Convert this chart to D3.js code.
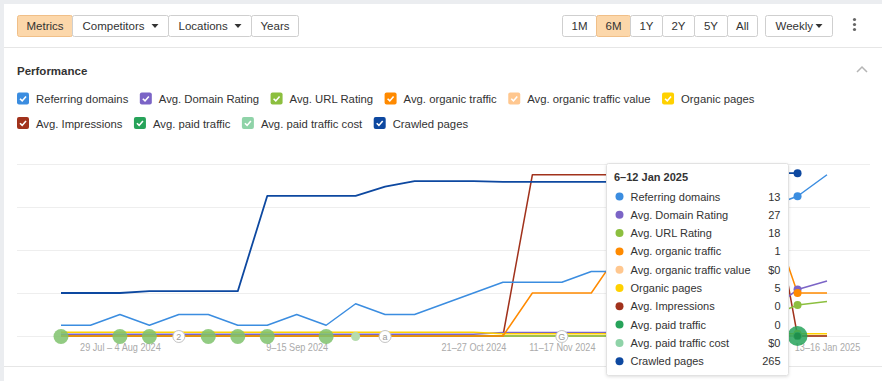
<!DOCTYPE html>
<html>
<head>
<meta charset="utf-8">
<script src="https://cdn.jsdelivr.net/npm/d3@7"></script>
<style>
  body { margin: 0; background: #fff; }
  svg text { font-family: "Liberation Sans", Arial, sans-serif; fill: #333; }
</style>
</head>
<body>
<svg id="chart"></svg>
<script>
// weeks (start day of each weekly bucket)
var weeks = ["2024-07-15", "2024-07-22", "2024-07-29", "2024-08-05", "2024-08-12", "2024-08-19",
  "2024-08-26", "2024-09-02", "2024-09-09", "2024-09-16", "2024-09-23", "2024-09-30",
  "2024-10-07", "2024-10-14", "2024-10-21", "2024-10-28", "2024-11-04", "2024-11-11",
  "2024-11-18", "2024-11-25", "2024-12-02", "2024-12-09", "2024-12-16", "2024-12-23",
  "2024-12-30", "2025-01-06", "2025-01-13"];

// series values, one per week
var referringDomains = [1, 1, 2, 1, 2, 2, 1, 1, 2, 1, 3, 2, 2, 3, 4, 5, 5, 5, 6, 6, 7, 8, 9, 10, 12, 13, 15];
var domainRating = [1, 1, 1, 1, 1, 1, 1, 1, 1, 1, 1, 1, 1, 1, 1, 2, 2, 2, 2, 2, 2, 2, 2, 2, 14, 27, 32];
var urlRating = [0, 0, 0, 0, 0, 0, 0, 0, 0, 0, 0, 0, 0, 0, 0, 0, 0, 0, 0, 0, 0, 0, 0, 0, 11, 18, 20];
var organicTraffic = [0, 0, 0, 0, 0, 0, 0, 0, 0, 0, 0, 0, 0, 0, 0, 0, 1, 1, 1, 2, 2, 2, 2, 2, 3, 1, 1];
var organicTrafficValue = [0, 0, 0, 0, 0, 0, 0, 0, 0, 0, 0, 0, 0, 0, 0, 0, 0, 0, 0, 0, 0, 0, 0, 0, 0, 0, 0];
var organicPages = [9, 9, 9, 9, 9, 9, 9, 9, 9, 9, 9, 9, 9, 9, 9, 5, 5, 5, 5, 5, 5, 5, 5, 5, 5, 5, 5];
var impressions = [0, 0, 0, 0, 0, 0, 0, 0, 0, 0, 0, 0, 0, 0, 0, 0, 15, 15, 15, 15, 15, 15, 15, 15, 15, 0, 0];
var paidTraffic = [0, 0, 0, 0, 0, 0, 0, 0, 0, 0, 0, 0, 0, 0, 0, 0, 0, 0, 0, 0, 0, 0, 0, 0, 0, 0, 0];
var paidTrafficCost = [0, 0, 0, 0, 0, 0, 0, 0, 0, 0, 0, 0, 0, 0, 0, 0, 0, 0, 0, 0, 0, 0, 0, 0, 0, 0, 0];
var crawledPages = [70, 70, 70, 73, 73, 73, 73, 228, 228, 228, 228, 243, 252, 252, 252, 251, 251, 251, 251, 251, 251, 252, 258, 263, 265, 265, null];

// x axis tick labels
var tickWeeks = ["2024-07-29", "2024-09-09", "2024-10-21", "2024-11-11", "2025-01-13"];
var tickLabels = ["29 Jul \u2013 4 Aug 2024", "9\u201315 Sep 2024", "21\u201327 Oct 2024", "11\u201317 Nov 2024", "13\u201316 Jan 2025"];

// event markers on the baseline
var eventWeeks = ["2024-07-15", "2024-07-29", "2024-08-05", "2024-08-19", "2024-08-26", "2024-09-02", "2024-09-16"];
var minorEventWeeks = ["2024-09-23"];
var letterWeeks = ["2024-08-12", "2024-09-30", "2024-11-11"];
var letterLabels = ["2", "a", "G"];

// hovered week for the tooltip
var hoverWeek = "2025-01-06";
var hoverTitle = "6\u201312 Jan 2025";

var legendNames = ["Referring domains", "Avg. Domain Rating", "Avg. URL Rating", "Avg. organic traffic",
  "Avg. organic traffic value", "Organic pages", "Avg. Impressions", "Avg. paid traffic",
  "Avg. paid traffic cost", "Crawled pages"];
var legendColors = ["#3b8de0", "#7b64c6", "#8cbf3f", "#ff8a00", "#ffc78f", "#ffd100",
  "#a1321c", "#27a35a", "#8fd3a8", "#0d48a0"];

// each metric gets its own y axis max
var series = [
  { values: referringDomains, max: 16 },
  { values: domainRating, max: 100 },
  { values: urlRating, max: 100 },
  { values: organicTraffic, max: 4 },
  { values: organicTrafficValue, max: 4, money: true },
  { values: organicPages, max: 400 },
  { values: impressions, max: 16 },
  { values: paidTraffic, max: 4 },
  { values: paidTrafficCost, max: 4, money: true },
  { values: crawledPages, max: 280 }
];
series.forEach(function(s, i) {
  s.name = legendNames[i];
  s.color = legendColors[i];
});

var parse = d3.utcParse("%Y-%m-%d");
var dates = weeks.map(parse);

var width = 882, height = 381;
var svg = d3.select("#chart").attr("width", width).attr("height", height);

// page frame
svg.append("rect").attr("width", width).attr("height", height).attr("fill", "#ebedf0");
svg.append("rect").attr("x", 4).attr("y", 4).attr("width", width - 4).attr("height", height - 4).attr("fill", "#fff");
svg.append("line").attr("x1", 4).attr("x2", width).attr("y1", 47.5).attr("y2", 47.5).attr("stroke", "#e6e6e6");
svg.append("line").attr("x1", 4).attr("x2", width).attr("y1", 366.5).attr("y2", 366.5).attr("stroke", "#e6e6e6");

// toolbar
function caret(g, cx, cy) {
  g.append("path").attr("d", `M${cx - 3.5},${cy - 2} L${cx + 3.5},${cy - 2} L${cx},${cy + 2} Z`).attr("fill", "#333");
}
function buttonGroup(edges, labels, active, carets) {
  var g = svg.append("g");
  for (var i = 0; i < labels.length; i++) {
    var x0 = edges[i], x1 = edges[i + 1];
    g.append("rect")
      .attr("x", x0).attr("y", 15.5).attr("width", x1 - x0).attr("height", 21)
      .attr("rx", 2)
      .attr("fill", i === active ? "#fcd7aa" : "#fff")
      .attr("stroke", i === active ? "#f0bf88" : "#cfcfcf");
    var t = g.append("text")
      .attr("y", 30)
      .style("font-size", "11.5px")
      .text(labels[i]);
    if (carets && carets[i]) {
      t.attr("x", x0 + 10);
      caret(g, x1 - 13.5, 26);
    } else {
      t.attr("x", (x0 + x1) / 2).attr("text-anchor", "middle");
    }
  }
}
buttonGroup([17.5, 72.5, 168.5, 251.5, 298.5], ["Metrics", "Competitors", "Locations", "Years"], 0, [false, true, true, false]);
buttonGroup([562.5, 596.5, 630.5, 662.5, 694.5, 727.5, 757.5], ["1M", "6M", "1Y", "2Y", "5Y", "All"], 1);
buttonGroup([765.5, 832.5], ["Weekly"], -1, [true]);
[19.5, 24.5, 29.5].forEach(function(cy) {
  svg.append("circle").attr("cx", 854.5).attr("cy", cy).attr("r", 1.6).attr("fill", "#666");
});

// section title
svg.append("text").attr("x", 17).attr("y", 74.5)
  .style("font-size", "11.5px").style("font-weight", "bold").text("Performance");
svg.append("path").attr("d", "M857,72 L862,67 L867,72")
  .attr("fill", "none").attr("stroke", "#b5b5b5").attr("stroke-width", 1.5);

// legend
var legendRows = [[0, 1, 2, 3, 4, 5], [6, 7, 8, 9]];
legendRows.forEach(function(row, r) {
  var lx = 17, ly = 92.5 + r * 24.5;
  row.forEach(function(idx) {
    var s = series[idx];
    var item = svg.append("g").attr("transform", `translate(${lx},${ly})`);
    item.append("rect").attr("width", 12).attr("height", 12).attr("rx", 2).attr("fill", s.color);
    item.append("path").attr("d", "M3,6.2 L5.2,8.4 L9,4")
      .attr("fill", "none").attr("stroke", "#fff").attr("stroke-width", 1.6);
    var t = item.append("text").attr("x", 19).attr("y", 10.5)
      .style("font-size", "11.3px").text(s.name);
    lx += 19 + t.node().getComputedTextLength() + 11.5;
  });
});

// scales
var plotTop = 164, plotBottom = 336;
var x = d3.scaleUtc().domain([dates[0], dates[dates.length - 1]]).range([61, 827]);
var grid = d3.scaleLinear().domain([0, 4]).range([plotBottom, plotTop]);

svg.append("g").selectAll("line")
  .data(grid.ticks(4))
  .enter()
  .append("line")
  .attr("x1", 17).attr("x2", 870)
  .attr("y1", d => Math.round(grid(d)) + 0.5)
  .attr("y2", d => Math.round(grid(d)) + 0.5)
  .attr("stroke", "#eeeeee");

// x axis (condensed labels)
var xAxis = d3.axisBottom(x)
  .tickValues(tickWeeks.map(parse))
  .tickFormat((d, i) => tickLabels[i])
  .tickSize(0)
  .tickPadding(7);
var axisG = svg.append("g").attr("transform", `translate(0,${plotBottom})`).call(xAxis);
axisG.select(".domain").remove();
axisG.selectAll("text")
  .style("font-size", "11px")
  .style("fill", "#aaaaaa")
  .attr("transform", "scale(0.83,1)");

// lines
series.forEach(function(s) {
  s.y = d3.scaleLinear().domain([0, s.max]).range([plotBottom, plotTop]);
});
var drawOrder = [8, 7, 4, 6, 2, 1, 5, 3, 0, 9];
drawOrder.forEach(function(idx) {
  var s = series[idx];
  var line = d3.line()
    .defined(d => d != null)
    .x((d, i) => x(dates[i]))
    .y(d => s.y(d));
  svg.append("path")
    .datum(s.values)
    .attr("d", line)
    .attr("fill", "none")
    .attr("stroke", s.color)
    .attr("stroke-width", idx === 9 ? 1.8 : 1.5)
    .attr("stroke-linejoin", "round");
});

// events
svg.append("g").selectAll("circle")
  .data(eventWeeks.map(parse))
  .enter()
  .append("circle")
  .attr("cx", d => x(d)).attr("cy", plotBottom + 0.5).attr("r", 7.5)
  .attr("fill", "#7fc26c").attr("opacity", 0.85);
svg.append("g").selectAll("circle")
  .data(minorEventWeeks.map(parse))
  .enter()
  .append("circle")
  .attr("cx", d => x(d)).attr("cy", plotBottom + 0.5).attr("r", 4.5)
  .attr("fill", "#b6dcae");
var letters = svg.append("g").selectAll("g")
  .data(letterWeeks.map(parse))
  .enter()
  .append("g")
  .attr("transform", d => `translate(${x(d)},${plotBottom + 0.5})`);
letters.append("circle").attr("r", 6).attr("fill", "#fff").attr("stroke", "#c4c4c4");
letters.append("text").attr("y", 3).attr("text-anchor", "middle")
  .style("font-size", "9px").style("fill", "#9a9a9a")
  .text((d, i) => letterLabels[i]);

// hover points
var hi = weeks.indexOf(hoverWeek);
var hx = x(dates[hi]);
series.forEach(function(s) {
  var v = s.values[hi];
  if (v == null) return;
  svg.append("circle").attr("cx", hx).attr("cy", s.y(v)).attr("r", 4).attr("fill", s.color);
});
svg.append("circle").attr("cx", hx).attr("cy", series[7].y(paidTraffic[hi]))
  .attr("r", 10).attr("fill", series[7].color).attr("opacity", 0.85);
svg.append("circle").attr("cx", hx).attr("cy", series[7].y(paidTraffic[hi]))
  .attr("r", 3.5).attr("fill", "#1f8f4c");

// tooltip
var defs = svg.append("defs");
var filter = defs.append("filter").attr("id", "shadow").attr("x", "-10%").attr("y", "-10%").attr("width", "120%").attr("height", "120%");
filter.append("feDropShadow").attr("dx", 0).attr("dy", 1).attr("stdDeviation", 1.5).attr("flood-opacity", 0.12);

var tip = svg.append("g").attr("transform", "translate(606.5,163.5)");
tip.append("rect").attr("width", 182).attr("height", 212).attr("rx", 2)
  .attr("fill", "#fff").attr("stroke", "#e2e2e2").attr("filter", "url(#shadow)");
tip.append("text").attr("x", 7.5).attr("y", 17)
  .style("font-size", "11px").style("font-weight", "bold").text(hoverTitle);
var rows = tip.selectAll(".row")
  .data(series)
  .enter()
  .append("g")
  .attr("class", "row")
  .attr("transform", (d, i) => `translate(0,${33 + i * 18.3})`);
rows.append("circle").attr("cx", 13).attr("cy", 0).attr("r", 4).attr("fill", d => d.color);
rows.append("text").attr("x", 24).attr("y", 4)
  .style("font-size", "11px").text(d => d.name);
rows.append("text").attr("x", 174).attr("y", 4).attr("text-anchor", "end")
  .style("font-size", "11px")
  .text(d => (d.money ? "$" : "") + d.values[hi]);
</script>
</body>
</html>
